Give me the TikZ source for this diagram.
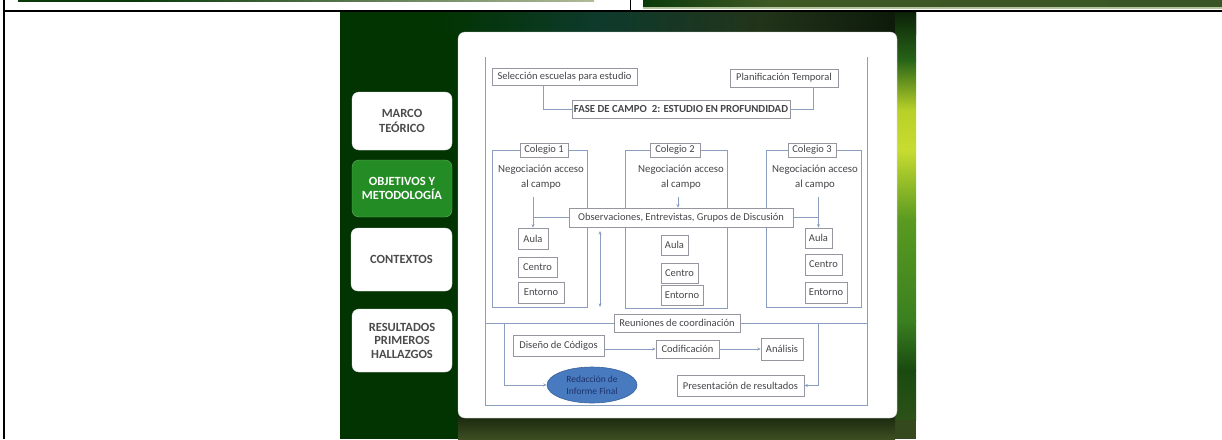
\documentclass[tikz,border=0pt]{standalone}
\usepackage{fontspec}
\setmainfont{Carlito}
\usetikzlibrary{arrows.meta,shapes.geometric}
\definecolor{dkgreen}{RGB}{2,52,2}
\definecolor{btngreen}{RGB}{36,140,36}
\definecolor{boxc}{RGB}{150,150,160}
\definecolor{connc}{RGB}{140,158,192}
\definecolor{txt}{RGB}{70,70,75}
\definecolor{menutxt}{RGB}{75,75,75}
\definecolor{ellfill}{RGB}{72,122,192}
\definecolor{elltxt}{RGB}{30,50,105}
\definecolor{barend}{RGB}{176,188,152}
\definecolor{imgA}{RGB}{10,58,10}
\definecolor{imgB}{RGB}{62,88,36}
\definecolor{imgC}{RGB}{58,86,38}
\definecolor{imgL}{RGB}{180,196,156}
\definecolor{teal}{RGB}{14,58,44}
\definecolor{olv}{RGB}{34,52,26}
\definecolor{blk}{RGB}{10,22,8}
\definecolor{r1}{RGB}{12,34,8}
\definecolor{r2}{RGB}{40,100,24}
\definecolor{r3}{RGB}{184,208,40}
\definecolor{r4}{RGB}{200,220,48}
\definecolor{r5}{RGB}{90,154,32}
\definecolor{r6}{RGB}{58,128,32}
\definecolor{r7}{RGB}{26,74,16}
\definecolor{r8}{RGB}{44,82,24}
\definecolor{r9}{RGB}{52,74,30}
\definecolor{b1}{RGB}{24,40,14}
\definecolor{b2}{RGB}{62,78,34}
\begin{document}
\begin{tikzpicture}[x=1pt,y=-1pt,
  box/.style={draw=boxc, line width=0.6pt, fill=white, inner sep=0pt, text=txt, font=\fontsize{10.5}{12}\selectfont},
  conn/.style={draw=connc, line width=0.6pt},
  arr/.style={conn, -{Stealth[length=3.5pt,width=3pt]}},
  darr/.style={conn, {Stealth[length=3.5pt,width=3pt]}-{Stealth[length=3.5pt,width=3pt]}},
  grpbox/.style={draw=connc, line width=0.6pt, inner sep=0pt},
  menu/.style={rounded corners=7pt, fill=white, draw=black!12, align=center, inner sep=0pt, font=\fontsize{12.5}{14.5}\selectfont\bfseries, text=menutxt},
  lbl/.style={align=center, inner sep=0pt, text=txt, font=\fontsize{10.8}{15}\selectfont}
]
\useasboundingbox (0,0) rectangle (1222,439);
% ---- top table row ----
\fill[white] (0,0) rectangle (1222,439);
\fill[imgA] (18,0) rectangle (135,1.6);
\shade[left color=imgA, right color=barend] (135,0) rectangle (594,1.6);
\shade[left color=imgA, right color=imgB] (643,0) rectangle (770,7.5);
\shade[left color=imgB, right color=imgC] (770,0) rectangle (1222,7.5);
\fill[imgL] (643,7) rectangle (1222,8.5);
\draw[line width=2pt] (4,0) -- (4,439);
\draw[line width=2.2pt] (3,11) -- (1222,11);
\draw[line width=0.9pt] (630,0) -- (630,11);
% ---- slide background ----
\fill[dkgreen] (340,12) rectangle (916,439);
\shade[left color=dkgreen, right color=teal] (440,12) rectangle (600,34);
\shade[left color=teal, right color=olv] (600,12) rectangle (760,34);
\shade[left color=olv, right color=blk] (760,12) rectangle (916,34);
\shade[top color=r1, bottom color=r2] (895,12) rectangle (916,60);
\shade[top color=r2, bottom color=r3] (895,60) rectangle (916,110);
\shade[top color=r3, bottom color=r4] (895,110) rectangle (916,150);
\shade[top color=r4, bottom color=r5] (895,150) rectangle (916,220);
\shade[top color=r5, bottom color=r6] (895,220) rectangle (916,320);
\shade[top color=r6, bottom color=r7] (895,320) rectangle (916,370);
\shade[top color=r7, bottom color=r8] (895,370) rectangle (916,420);
\fill[r9] (895,420) rectangle (916,439);
\shade[top color=b1, bottom color=b2] (458,416) rectangle (895,439);
\fill[dkgreen] (340,34) rectangle (458,439);
% ---- white panel ----
\draw[fill=white, draw=black!20, rounded corners=7pt] (458,32) rectangle (897,418);
% ---- menu buttons ----
\node[menu, minimum width=100pt, minimum height=58pt] (m1) at (402,121) {MARCO\\TEÓRICO};
\node[menu, fill=btngreen, draw=btngreen!70!white, text=white, minimum width=100pt, minimum height=57pt] (m2) at (402,188.5) {OBJETIVOS Y\\METODOLOGÍA};
\node[menu, minimum width=101pt, minimum height=63pt] (m3) at (401.5,259.5) {CONTEXTOS};
\node[menu, minimum width=100pt, minimum height=63pt, font=\fontsize{12.5}{13.5}\selectfont\bfseries] (m4) at (402,340.5) {RESULTADOS\\PRIMEROS\\HALLAZGOS};
% ---- diagram frame ----
\coordinate (fTL) at (485,57);
\coordinate (fBL) at (485,405);
\coordinate (fBR) at (867,405);
\coordinate (fTR) at (867,57);
\draw[conn] (fTL) -- (fBL) -- (fBR) -- (fTR);
\coordinate (hL) at (485,323);
\coordinate (hR) at (867,323);
\draw[conn] (hL) -- (hR);
% ---- top boxes ----
\node[box, minimum width=145pt, minimum height=17pt] (sel) at (564.5,76.5) {Selección escuelas para estudio};
\node[box, minimum width=108pt, minimum height=18pt] (plan) at (784,78) {Planificación Temporal};
\node[box, minimum width=218pt, minimum height=18pt, font=\fontsize{10.8}{12}\selectfont\bfseries] (fase) at (681,109) {FASE DE CAMPO\ \ 2: ESTUDIO EN PROFUNDIDAD};
\draw[conn] ([xshift=-21.5pt]sel.south) |- (fase.west);
\draw[conn] ([xshift=29pt]plan.south) |- (fase.east);
% ---- colegio groups ----
\node[grpbox, minimum width=95pt, minimum height=157pt] (g1) at (539.5,228.5) {};
\node[grpbox, minimum width=102pt, minimum height=158pt] (g2) at (676,229) {};
\node[grpbox, minimum width=95pt, minimum height=157pt] (g3) at (813.5,228.5) {};
\node[box, minimum width=48pt, minimum height=14pt] (col1) at (544,150) {Colegio 1};
\node[box, minimum width=50pt, minimum height=14pt] (col2) at (675,150) {Colegio 2};
\node[box, minimum width=48pt, minimum height=14pt] (col3) at (812,150) {Colegio 3};
\node[lbl] (neg1) at (541,177.5) {Negociación acceso\\al campo};
\node[lbl] (neg2) at (681,177.5) {Negociación acceso\\al campo};
\node[lbl] (neg3) at (815,177.5) {Negociación acceso\\al campo};
\node[box, minimum width=224pt, minimum height=19pt] (obs) at (681,217.5) {Observaciones, Entrevistas, Grupos de Discusión};
% Aula / Centro / Entorno
\node[box, minimum width=30pt, minimum height=21pt] (aula1) at (533,238.5) {Aula};
\node[box, minimum width=39pt, minimum height=20pt] (cen1) at (537.5,267) {Centro};
\node[box, minimum width=46pt, minimum height=21pt] (ent1) at (541,292.5) {Entorno};
\node[box, minimum width=27pt, minimum height=20pt] (aula2) at (674.5,245) {Aula};
\node[box, minimum width=37pt, minimum height=20pt] (cen2) at (679.5,273) {Centro};
\node[box, minimum width=42pt, minimum height=20pt] (ent2) at (682,295) {Entorno};
\node[box, minimum width=27pt, minimum height=20pt] (aula3) at (818.5,238) {Aula};
\node[box, minimum width=37pt, minimum height=21pt] (cen3) at (823.5,264.5) {Centro};
\node[box, minimum width=42pt, minimum height=21pt] (ent3) at (826,292.5) {Entorno};
% arrows from negotiation
\coordinate (n1) at (533,197);
\coordinate (n2) at (678,197);
\coordinate (n3) at (818.5,197);
\draw[arr] (n1) -- (aula1.north);
\draw[conn] (obs.west) -- (obs.west -| aula1.north);
\draw[arr] (n2) -- (n2 |- obs.north);
\draw[arr] (n3) -- (aula3.north);
\draw[conn] (obs.east) -- (obs.east -| aula3.north);
% double arrow
\coordinate (da1) at (600,231);
\coordinate (da2) at (600,307);
\draw[darr] (da1) -- (da2);
% ---- lower part ----
\node[box, minimum width=126pt, minimum height=18pt] (reu) at (677,323) {Reuniones de coordinación};
\node[box, minimum width=91pt, minimum height=21pt] (dis) at (558.5,345.5) {Diseño de Códigos};
\node[box, minimum width=63pt, minimum height=18pt] (cod) at (687.5,349) {Codificación};
\node[box, minimum width=42pt, minimum height=22pt] (ana) at (782,349) {Análisis};
\node[ellipse, fill=ellfill, draw=ellfill!80!black, line width=0.6pt, minimum width=90pt, minimum height=36pt, inner sep=0pt, align=center, text=elltxt, font=\fontsize{9.5}{11.5}\selectfont] (red) at (592,385) {Redacción de\\Informe Final};
\node[box, minimum width=127pt, minimum height=21pt] (pres) at (740.5,385.5) {Presentación de resultados};
\draw[arr] (dis.east |- cod.west) -- (cod.west);
\draw[arr] (cod.east) -- (ana.west);
\coordinate (lp) at (504,323);
\coordinate (rp) at (818,323);
\draw[arr] (lp) |- (red.west);
\draw[arr] (rp) |- (pres.east);
\end{tikzpicture}
\end{document}
